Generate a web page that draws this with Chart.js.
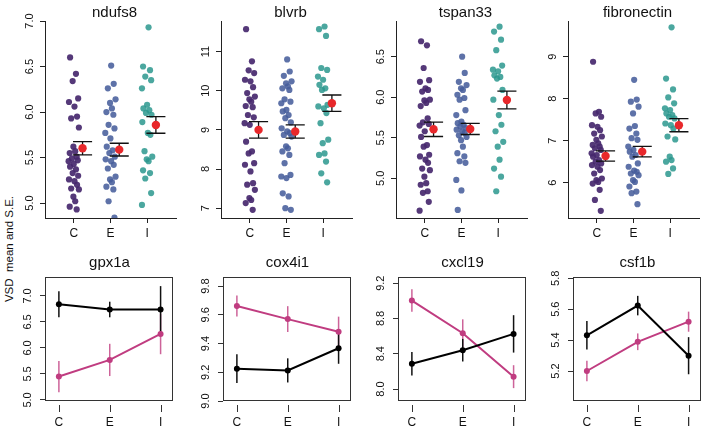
<!DOCTYPE html>
<html><head><meta charset="utf-8">
<script src="https://cdn.jsdelivr.net/npm/chart.js@4"></script>
<style>
html,body{margin:0;padding:0;background:#fff;}
body{width:708px;height:428px;position:relative;overflow:hidden;font-family:"Liberation Sans",Arial,Helvetica,sans-serif;}
canvas{position:absolute;}
.ttl{position:absolute;width:160px;text-align:center;font-size:15px;line-height:16px;color:#111;white-space:nowrap;}
#ylab{position:absolute;width:200px;text-align:center;font-size:11.5px;line-height:14px;color:#111;white-space:pre;transform:rotate(-90deg);transform-origin:50% 50%;}
</style></head>
<body>
<div id="ylab">VSD  mean and S.E.</div>
<script>
// ---------- DATA ----------
const groups = ['C','E','I'];

// top row: individual samples
const ndufs8_C = [6.60,6.42,6.34,6.15,6.11,6.06,5.95,5.93,5.83,5.62,5.57,5.55,5.51,5.49,5.47,5.46,5.43,5.40,5.37,5.33,5.30,5.26,5.24,5.20,5.16,5.15,5.07,5.02,4.96,4.93];
const ndufs8_E = [6.51,6.31,6.26,6.14,6.10,6.04,6.00,5.97,5.86,5.82,5.77,5.71,5.62,5.58,5.55,5.51,5.48,5.46,5.42,5.38,5.29,5.26,5.23,5.18,5.15,5.02,4.84];
const ndufs8_I = [6.93,6.50,6.46,6.39,6.35,6.26,6.08,6.04,6.02,5.99,5.97,5.89,5.77,5.75,5.57,5.51,5.48,5.46,5.36,5.33,5.27,5.11,4.98];
const ndufs8_mean = [5.602,5.587,5.858];
const ndufs8_se = [0.072,0.070,0.091];
const ndufs8_ticks = ['5.0','5.5','6.0','6.5','7.0'];
const ndufs8_range = [4.836,7.0];

const blvrb_C = [11.57,10.75,10.52,10.45,10.28,10.24,10.09,9.94,9.85,9.78,9.72,9.61,9.58,9.38,9.32,9.17,9.13,8.70,8.45,8.40,8.15,8.11,7.94,7.64,7.60,7.47,7.26,7.21,7.13,6.96];
const blvrb_E = [10.80,10.49,10.38,10.24,10.19,10.11,10.06,10.02,9.78,9.72,9.68,9.51,9.47,9.38,9.30,9.19,9.04,8.96,8.92,8.87,8.83,8.58,8.53,8.45,8.36,8.15,7.85,7.81,7.77,7.38,7.30,7.00,6.96];
const blvrb_I = [11.64,11.57,11.40,10.58,10.53,10.36,10.28,10.15,10.06,10.02,9.64,9.60,9.55,9.43,9.17,8.75,8.66,8.40,8.36,8.19,7.89,7.66];
const blvrb_mean = [9.00,8.96,9.68];
const blvrb_se = [0.21,0.17,0.21];
const blvrb_ticks = ['7','8','9','10','11'];
const blvrb_range = [6.75,11.78];

const tspan33_C = [6.69,6.64,6.36,6.21,6.19,6.11,6.09,6.07,5.97,5.96,5.93,5.89,5.74,5.69,5.67,5.65,5.58,5.51,5.41,5.39,5.29,5.27,5.23,5.19,5.12,5.10,5.02,4.94,4.92,4.84,4.82,4.71,4.60];
const tspan33_E = [6.50,6.30,6.19,6.15,6.11,6.09,6.03,5.99,5.97,5.84,5.78,5.70,5.68,5.66,5.64,5.62,5.60,5.58,5.56,5.53,5.51,5.47,5.39,5.31,5.27,5.21,5.19,4.98,4.85,4.61];
const tspan33_I = [6.87,6.81,6.71,6.58,6.39,6.34,6.32,6.27,6.25,6.23,6.09,5.97,5.78,5.66,5.58,5.45,5.39,5.23,5.12,5.02,4.84];
const tspan33_mean = [5.604,5.608,5.966];
const tspan33_se = [0.089,0.068,0.109];
const tspan33_ticks = ['5.0','5.5','6.0','6.5'];
const tspan33_range = [4.51,6.94];

const fibronectin_C = [8.88,7.69,7.65,7.57,7.37,7.33,7.25,7.17,7.10,7.02,6.94,6.90,6.86,6.82,6.78,6.70,6.66,6.62,6.54,6.50,6.46,6.42,6.38,6.30,6.22,6.10,6.06,6.02,5.98,5.83,5.59,5.33];
const fibronectin_E = [8.45,7.98,7.93,7.81,7.65,7.35,7.29,7.17,7.06,7.02,6.86,6.78,6.74,6.66,6.62,6.46,6.38,6.29,6.26,6.22,6.18,6.06,6.02,5.91,5.79,5.75,5.49];
const fibronectin_I = [9.70,8.48,8.22,8.03,7.89,7.77,7.73,7.65,7.61,7.57,7.53,7.41,7.37,7.29,7.10,7.03,6.62,6.54,6.50,6.34,6.21];
const fibronectin_mean = [6.636,6.74,7.37];
const fibronectin_se = [0.12,0.127,0.157];
const fibronectin_ticks = ['6','7','8','9'];
const fibronectin_range = [5.16,9.85];

// horizontal jitter pattern (category units)
const JIT = [-0.10,0.06,-0.03,0.12,-0.13,0.02,0.09,-0.07,0.14,-0.01,0.04,-0.11,0.08,-0.05,0.11,-0.14,0.00];

// bottom row: two series, mean and S.E.
const gpx1a_black = [6.84,6.74,6.74];
const gpx1a_black_se = [0.25,0.15,0.45];
const gpx1a_pink = [5.45,5.77,6.27];
const gpx1a_pink_se = [0.30,0.31,0.39];
const gpx1a_ticks = ['5.0','5.5','6.0','6.5','7.0'];
const gpx1a_range = [4.98,7.365];

const cox4i1_black = [9.225,9.213,9.367];
const cox4i1_black_se = [0.10,0.084,0.108];
const cox4i1_pink = [9.661,9.570,9.482];
const cox4i1_pink_se = [0.073,0.09,0.105];
const cox4i1_ticks = ['9.0','9.2','9.4','9.6','9.8'];
const cox4i1_range = [9.0,9.863];

const cxcl19_black = [8.287,8.44,8.625];
const cxcl19_black_se = [0.133,0.128,0.212];
const cxcl19_pink = [9.003,8.632,8.14];
const cxcl19_pink_se = [0.127,0.158,0.13];
const cxcl19_ticks = ['8.0','8.4','8.8','9.2'];
const cxcl19_range = [7.864,9.27];

const csf1b_black = [5.431,5.623,5.299];
const csf1b_black_se = [0.092,0.063,0.12];
const csf1b_pink = [5.20,5.389,5.519];
const csf1b_pink_se = [0.067,0.054,0.065];
const csf1b_ticks = ['5.2','5.4','5.6','5.8'];
const csf1b_range = [5.006,5.808];

// ---------- LAYOUT / STYLE ----------
const FONT = '"Liberation Sans", Arial, Helvetica, sans-serif';
const groupColors = ['rgba(70,40,110,0.92)','rgba(72,94,156,0.88)','rgba(44,152,142,0.85)'];
const MEAN_COL = '#e8282b';
const BLACK = '#000000';
const PINK = '#c03c80';
const PINK_BAR = 'rgba(192,60,128,0.8)';

const topPanels = [
  {title:'ndufs8', data:[ndufs8_C,ndufs8_E,ndufs8_I], mean:ndufs8_mean, se:ndufs8_se, ticks:ndufs8_ticks, range:ndufs8_range},
  {title:'blvrb', data:[blvrb_C,blvrb_E,blvrb_I], mean:blvrb_mean, se:blvrb_se, ticks:blvrb_ticks, range:blvrb_range},
  {title:'tspan33', data:[tspan33_C,tspan33_E,tspan33_I], mean:tspan33_mean, se:tspan33_se, ticks:tspan33_ticks, range:tspan33_range},
  {title:'fibronectin', data:[fibronectin_C,fibronectin_E,fibronectin_I], mean:fibronectin_mean, se:fibronectin_se, ticks:fibronectin_ticks, range:fibronectin_range}
];
const bottomPanels = [
  {title:'gpx1a', black:gpx1a_black, bse:gpx1a_black_se, pink:gpx1a_pink, pse:gpx1a_pink_se, ticks:gpx1a_ticks, range:gpx1a_range},
  {title:'cox4i1', black:cox4i1_black, bse:cox4i1_black_se, pink:cox4i1_pink, pse:cox4i1_pink_se, ticks:cox4i1_ticks, range:cox4i1_range},
  {title:'cxcl19', black:cxcl19_black, bse:cxcl19_black_se, pink:cxcl19_pink, pse:cxcl19_pink_se, ticks:cxcl19_ticks, range:cxcl19_range},
  {title:'csf1b', black:csf1b_black, bse:csf1b_black_se, pink:csf1b_pink, pse:csf1b_pink_se, ticks:csf1b_ticks, range:csf1b_range}
];

const topLeft = [45,221,396,568], topW = 133, topTop = 21, topBottom = 218;
const botLeft = [45,223,398,573], botW = 129, botTop = 277, botBottom = 401;
const AXW = 45, RPAD = 3;

// ---------- PLUGINS ----------
const rAxes = {
  id:'rAxes',
  beforeDatasetDraw(chart, args){
    const o = chart.options.plugins.rAxes;
    if (!o || !o.errTop || args.index !== 0) return;
    const {ctx, scales:{x,y}} = chart;
    ctx.save();
    ctx.strokeStyle = '#111'; ctx.lineWidth = 1.3;
    o.errTop.mean.forEach((m,i)=>{
      const cx = x.getPixelForValue(i+1+o.errTop.shift);
      const x0 = x.getPixelForValue(i+1+o.errTop.shift-o.errTop.cap);
      const x1 = x.getPixelForValue(i+1+o.errTop.shift+o.errTop.cap);
      const yt = y.getPixelForValue(m+o.errTop.se[i]);
      const yb = y.getPixelForValue(m-o.errTop.se[i]);
      ctx.beginPath();
      ctx.moveTo(cx,yt); ctx.lineTo(cx,yb);
      ctx.moveTo(x0,yt); ctx.lineTo(x1,yt);
      ctx.moveTo(x0,yb); ctx.lineTo(x1,yb);
      ctx.stroke();
    });
    ctx.restore();
  },
  beforeDatasetsDraw(chart){
    const o = chart.options.plugins.rAxes;
    if (!o || !o.errBot) return;
    const {ctx, scales:{x,y}} = chart;
    ctx.save();
    ctx.lineWidth = 1.5;
    o.errBot.forEach(s=>{
      ctx.strokeStyle = s.color;
      s.mean.forEach((m,i)=>{
        const cx = x.getPixelForValue(i+1);
        ctx.beginPath();
        ctx.moveTo(cx,y.getPixelForValue(m+s.se[i]));
        ctx.lineTo(cx,y.getPixelForValue(m-s.se[i]));
        ctx.stroke();
      });
    });
    ctx.restore();
  },
  afterDraw(chart){
    const o = chart.options.plugins.rAxes;
    if (!o) return;
    const {ctx, chartArea:a, scales:{x,y}} = chart;
    ctx.save();
    ctx.fillStyle = '#111';
    ctx.font = '11px ' + FONT;
    ctx.textAlign = 'center'; ctx.textBaseline = 'middle';
    o.yLabels.forEach(lab=>{
      const py = y.getPixelForValue(parseFloat(lab));
      ctx.save(); ctx.translate(a.left - o.yOff, py); ctx.rotate(-Math.PI/2);
      ctx.fillText(lab,0,0); ctx.restore();
    });
    if (o.box){
      ctx.strokeStyle = '#333'; ctx.lineWidth = 1;
      ctx.strokeRect(Math.round(a.left)+0.5, Math.round(a.top)+0.5, Math.round(a.right-a.left)-1, Math.round(a.bottom-a.top)-1);
      [1,2,3].forEach(v=>{
        const px = Math.round(x.getPixelForValue(v))+0.5;
        ctx.beginPath(); ctx.moveTo(px,a.bottom+4); ctx.lineTo(px,a.bottom+11); ctx.stroke();
      });
    }
    ctx.restore();
  }
};
Chart.register(rAxes);

function makeCanvas(left, top, w, h){
  const c = document.createElement('canvas');
  c.width = w; c.height = h;
  c.style.left = left+'px'; c.style.top = top+'px';
  c.style.width = w+'px'; c.style.height = h+'px';
  document.body.appendChild(c);
  return c;
}
function makeTitle(text, cx, cy){
  const d = document.createElement('div');
  d.className = 'ttl'; d.textContent = text;
  d.style.left = (cx-80)+'px'; d.style.top = (cy-8)+'px';
  document.body.appendChild(d);
}

// ---------- TOP ROW ----------
topPanels.forEach((p,k)=>{
  const L = topLeft[k];
  const W = AXW + topW + RPAD, H = topBottom + 27;
  const c = makeCanvas(L-AXW, 0, W, H);
  makeTitle(p.title, L + topW/2 + 3, 12);
  const datasets = [{
    data: p.mean.map((m,i)=>({x:i+1+0.24, y:m})),
    pointRadius: 4.2, pointBackgroundColor: MEAN_COL, pointBorderWidth: 0, showLine:false
  }];
  p.data.forEach((arr,g)=>{
    datasets.push({
      data: arr.map((v,i)=>({x:g+1+JIT[(i+g*5)%JIT.length], y:v})),
      pointRadius: 3.1, pointBackgroundColor: groupColors[g], pointBorderWidth: 0, showLine:false
    });
  });
  new Chart(c, {
    type:'scatter',
    data:{datasets},
    options:{
      responsive:false, animation:false, devicePixelRatio:1,
      layout:{padding:{left:0,right:RPAD,top:topTop,bottom:0}},
      plugins:{legend:{display:false}, tooltip:{enabled:false},
        rAxes:{yLabels:p.ticks, yOff:15, box:false, errTop:{mean:p.mean, se:p.se, shift:0.24, cap:0.26}}},
      scales:{
        x:{type:'linear', min:0.216, max:3.81, bounds:'data',
           afterFit:s=>{s.height = 27;},
           afterBuildTicks:s=>{s.ticks = [1,2,3].map(v=>({value:v}));},
           ticks:{autoSkip:false, callback:v=>groups[v-1], color:'#111', font:{family:FONT,size:12}, padding:3, maxRotation:0},
           grid:{display:true, drawOnChartArea:false, drawTicks:true, tickLength:5, tickColor:'#222', color:'#222'},
           border:{display:true, color:'#222', width:1}},
        y:{type:'linear', min:p.range[0], max:p.range[1], bounds:'data',
           afterFit:s=>{s.width = AXW;},
           afterBuildTicks:s=>{s.ticks = p.ticks.map(t=>({value:parseFloat(t)}));},
           ticks:{display:false},
           grid:{display:true, drawOnChartArea:false, drawTicks:true, tickLength:5, tickColor:'#222', color:'#222'},
           border:{display:true, color:'#222', width:1}}
      }
    }
  });
});

// ---------- BOTTOM ROW ----------
bottomPanels.forEach((p,k)=>{
  const L = botLeft[k];
  const TOPC = 250;
  const W = AXW + botW + RPAD, H = 428 - TOPC;
  const c = makeCanvas(L-AXW, TOPC, W, H);
  makeTitle(p.title, L + botW/2, 262);
  const datasets = [
    {data:p.black.map((v,i)=>({x:i+1,y:v})), showLine:true, borderColor:BLACK, borderWidth:2,
     pointRadius:3, pointBackgroundColor:BLACK, pointBorderWidth:0},
    {data:p.pink.map((v,i)=>({x:i+1,y:v})), showLine:true, borderColor:PINK, borderWidth:2,
     pointRadius:3, pointBackgroundColor:PINK, pointBorderWidth:0}
  ];
  new Chart(c, {
    type:'scatter',
    data:{datasets},
    options:{
      responsive:false, animation:false, devicePixelRatio:1,
      layout:{padding:{left:0,right:RPAD,top:botTop-TOPC,bottom:0}},
      plugins:{legend:{display:false}, tooltip:{enabled:false},
        rAxes:{yLabels:p.ticks, yOff:17, box:true,
          errBot:[{mean:p.pink, se:p.pse, color:PINK_BAR},{mean:p.black, se:p.bse, color:'#111'}]}},
      scales:{
        x:{type:'linear', min:0.727, max:3.244, bounds:'data',
           afterFit:s=>{s.height = 428 - botBottom;},
           afterBuildTicks:s=>{s.ticks = [1,2,3].map(v=>({value:v}));},
           ticks:{autoSkip:false, callback:v=>groups[v-1], color:'#111', font:{family:FONT,size:12}, padding:14, maxRotation:0},
           grid:{display:false, drawTicks:false},
           border:{display:false}},
        y:{type:'linear', min:p.range[0], max:p.range[1], bounds:'data',
           afterFit:s=>{s.width = AXW;},
           afterBuildTicks:s=>{s.ticks = p.ticks.map(t=>({value:parseFloat(t)}));},
           ticks:{display:false},
           grid:{display:true, drawOnChartArea:false, drawTicks:true, tickLength:5, tickColor:'#333', color:'#333'},
           border:{display:false}}
      }
    }
  });
});

// y axis label
const yl = document.getElementById('ylab');
yl.style.left = (9-100)+'px';
yl.style.top = (249-7)+'px';
</script>
</body></html>
